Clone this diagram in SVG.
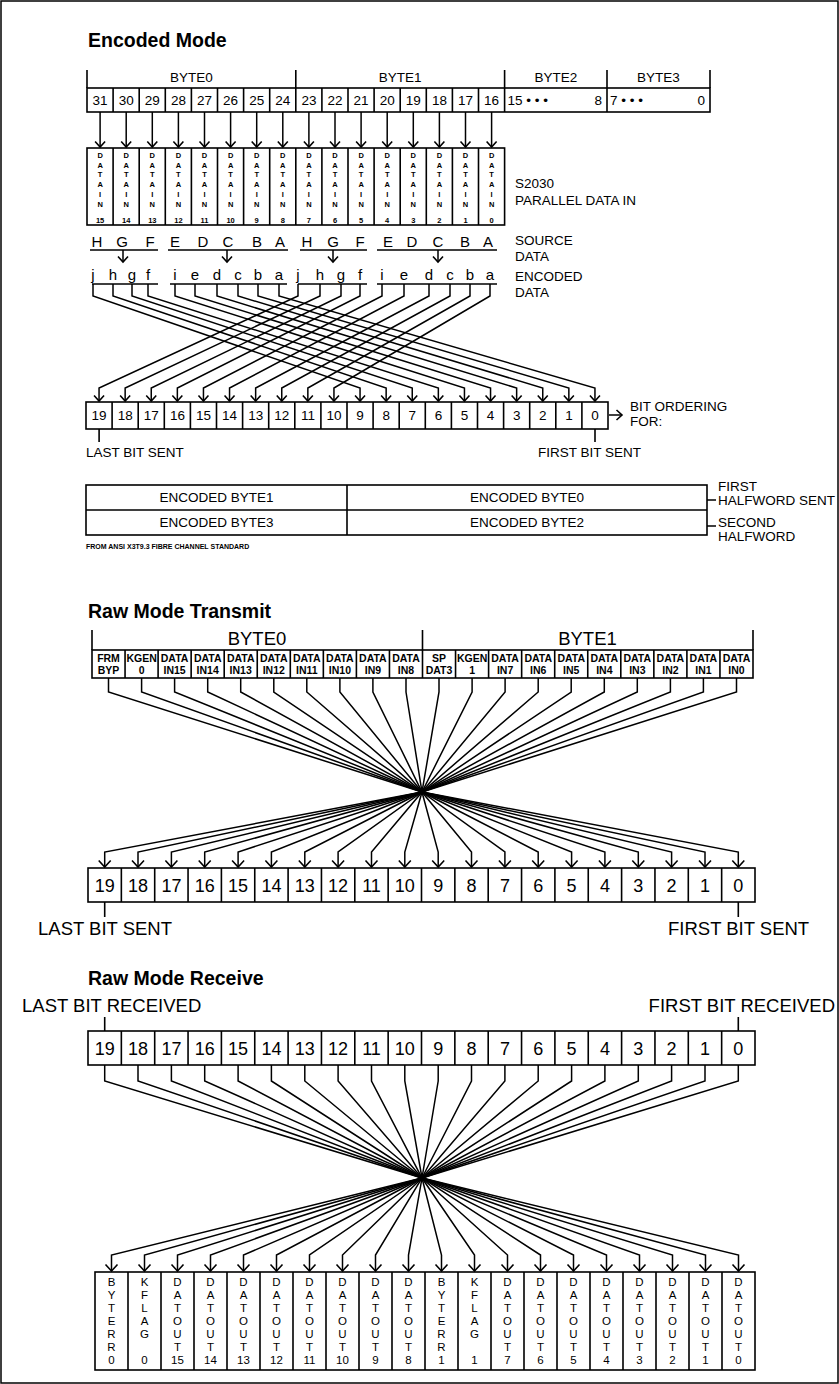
<svg xmlns="http://www.w3.org/2000/svg" width="839" height="1384" viewBox="0 0 839 1384">
<defs>
<style>
text{font-family:"Liberation Sans",Arial,Helvetica,sans-serif;fill:#000}
.c{text-anchor:middle}
.e{text-anchor:end}
.h{font-size:19.5px;font-weight:bold}
.s12{font-size:13.5px}
.lt{font-size:15px}
.sm{font-size:7px;font-weight:bold}
.dv{font-size:7.5px;font-weight:bold}
.rl{font-size:10.5px;font-weight:bold}
.big{font-size:18.5px}
.num{font-size:18px}
.vl{font-size:11.5px}
.ln{stroke:#000;stroke-width:1.6;fill:none}
.bx{fill:none;stroke:#000;stroke-width:1.6}
.w{stroke:#000;stroke-width:1.5;fill:none;marker-end:url(#ah)}
.w2{stroke:#000;stroke-width:1.5;fill:none;marker-end:url(#ah2)}
</style>
<marker id="ah" markerUnits="userSpaceOnUse" markerWidth="14" markerHeight="14" viewBox="-8 -7 10 14" refX="0" refY="0" orient="auto" overflow="visible"><path d="M-5.5,-5 L0,0 L-5.5,5" fill="none" stroke="#000" stroke-width="1.6"/></marker>
<marker id="ah2" markerUnits="userSpaceOnUse" markerWidth="16" markerHeight="16" viewBox="-9 -8 11 16" refX="0" refY="0" orient="auto" overflow="visible"><path d="M-6.5,-6 L0,0 L-6.5,6" fill="none" stroke="#000" stroke-width="1.6"/></marker>
</defs>
<rect x="1" y="1" width="837" height="1382" fill="#fff" stroke="#000" stroke-width="1.5"/>

<!-- ================= ENCODED MODE ================= -->
<text class="h" x="88" y="47">Encoded Mode</text>

<g id="enc-bytes">
<path class="ln" d="M87,70V88 M295.8,70V88 M504.6,70V88 M607,70V88 M710,70V88"/>
<rect class="bx" x="87" y="88" width="623" height="24"/>
<path class="ln" d="M113.1,88V112 M139.2,88V112 M165.3,88V112 M191.4,88V112 M217.5,88V112 M243.6,88V112 M269.7,88V112 M295.8,88V112 M321.9,88V112 M348,88V112 M374.1,88V112 M400.2,88V112 M426.3,88V112 M452.4,88V112 M478.5,88V112 M504.6,88V112 M607,88V112"/>
<text class="s12 c" x="191.4" y="82">BYTE0</text>
<text class="s12 c" x="400.2" y="82">BYTE1</text>
<text class="s12 c" x="555.8" y="82">BYTE2</text>
<text class="s12 c" x="658.5" y="82">BYTE3</text>
<text class="s12 c" x="100.1" y="105">31</text>
<text class="s12 c" x="126.2" y="105">30</text>
<text class="s12 c" x="152.3" y="105">29</text>
<text class="s12 c" x="178.4" y="105">28</text>
<text class="s12 c" x="204.5" y="105">27</text>
<text class="s12 c" x="230.6" y="105">26</text>
<text class="s12 c" x="256.7" y="105">25</text>
<text class="s12 c" x="282.8" y="105">24</text>
<text class="s12 c" x="308.9" y="105">23</text>
<text class="s12 c" x="335.0" y="105">22</text>
<text class="s12 c" x="361.1" y="105">21</text>
<text class="s12 c" x="387.2" y="105">20</text>
<text class="s12 c" x="413.3" y="105">19</text>
<text class="s12 c" x="439.4" y="105">18</text>
<text class="s12 c" x="465.5" y="105">17</text>
<text class="s12 c" x="491.6" y="105">16</text>
<text class="s12" x="507.5" y="105">15 • • •</text>
<text class="s12 e" x="602" y="105">8</text>
<text class="s12" x="610" y="105">7 • • •</text>
<text class="s12 e" x="705" y="105">0</text>
</g>

<g id="enc-datain">
<rect class="bx" x="87" y="148" width="417.6" height="77"/>
<path class="ln" d="M113.1,148V225 M139.2,148V225 M165.3,148V225 M191.4,148V225 M217.5,148V225 M243.6,148V225 M269.7,148V225 M295.8,148V225 M321.9,148V225 M348,148V225 M374.1,148V225 M400.2,148V225 M426.3,148V225 M452.4,148V225 M478.5,148V225"/>
<text class="dv c" x="100.1" y="158">D<tspan x="100.1" dy="9.7">A</tspan><tspan x="100.1" dy="9.7">T</tspan><tspan x="100.1" dy="9.7">A</tspan><tspan x="100.1" dy="9.7">I</tspan><tspan x="100.1" dy="9.7">N</tspan><tspan x="100.1" dy="16">15</tspan></text>
<text class="dv c" x="126.2" y="158">D<tspan x="126.2" dy="9.7">A</tspan><tspan x="126.2" dy="9.7">T</tspan><tspan x="126.2" dy="9.7">A</tspan><tspan x="126.2" dy="9.7">I</tspan><tspan x="126.2" dy="9.7">N</tspan><tspan x="126.2" dy="16">14</tspan></text>
<text class="dv c" x="152.3" y="158">D<tspan x="152.3" dy="9.7">A</tspan><tspan x="152.3" dy="9.7">T</tspan><tspan x="152.3" dy="9.7">A</tspan><tspan x="152.3" dy="9.7">I</tspan><tspan x="152.3" dy="9.7">N</tspan><tspan x="152.3" dy="16">13</tspan></text>
<text class="dv c" x="178.4" y="158">D<tspan x="178.4" dy="9.7">A</tspan><tspan x="178.4" dy="9.7">T</tspan><tspan x="178.4" dy="9.7">A</tspan><tspan x="178.4" dy="9.7">I</tspan><tspan x="178.4" dy="9.7">N</tspan><tspan x="178.4" dy="16">12</tspan></text>
<text class="dv c" x="204.5" y="158">D<tspan x="204.5" dy="9.7">A</tspan><tspan x="204.5" dy="9.7">T</tspan><tspan x="204.5" dy="9.7">A</tspan><tspan x="204.5" dy="9.7">I</tspan><tspan x="204.5" dy="9.7">N</tspan><tspan x="204.5" dy="16">11</tspan></text>
<text class="dv c" x="230.6" y="158">D<tspan x="230.6" dy="9.7">A</tspan><tspan x="230.6" dy="9.7">T</tspan><tspan x="230.6" dy="9.7">A</tspan><tspan x="230.6" dy="9.7">I</tspan><tspan x="230.6" dy="9.7">N</tspan><tspan x="230.6" dy="16">10</tspan></text>
<text class="dv c" x="256.7" y="158">D<tspan x="256.7" dy="9.7">A</tspan><tspan x="256.7" dy="9.7">T</tspan><tspan x="256.7" dy="9.7">A</tspan><tspan x="256.7" dy="9.7">I</tspan><tspan x="256.7" dy="9.7">N</tspan><tspan x="256.7" dy="16">9</tspan></text>
<text class="dv c" x="282.8" y="158">D<tspan x="282.8" dy="9.7">A</tspan><tspan x="282.8" dy="9.7">T</tspan><tspan x="282.8" dy="9.7">A</tspan><tspan x="282.8" dy="9.7">I</tspan><tspan x="282.8" dy="9.7">N</tspan><tspan x="282.8" dy="16">8</tspan></text>
<text class="dv c" x="308.9" y="158">D<tspan x="308.9" dy="9.7">A</tspan><tspan x="308.9" dy="9.7">T</tspan><tspan x="308.9" dy="9.7">A</tspan><tspan x="308.9" dy="9.7">I</tspan><tspan x="308.9" dy="9.7">N</tspan><tspan x="308.9" dy="16">7</tspan></text>
<text class="dv c" x="335.0" y="158">D<tspan x="335.0" dy="9.7">A</tspan><tspan x="335.0" dy="9.7">T</tspan><tspan x="335.0" dy="9.7">A</tspan><tspan x="335.0" dy="9.7">I</tspan><tspan x="335.0" dy="9.7">N</tspan><tspan x="335.0" dy="16">6</tspan></text>
<text class="dv c" x="361.1" y="158">D<tspan x="361.1" dy="9.7">A</tspan><tspan x="361.1" dy="9.7">T</tspan><tspan x="361.1" dy="9.7">A</tspan><tspan x="361.1" dy="9.7">I</tspan><tspan x="361.1" dy="9.7">N</tspan><tspan x="361.1" dy="16">5</tspan></text>
<text class="dv c" x="387.2" y="158">D<tspan x="387.2" dy="9.7">A</tspan><tspan x="387.2" dy="9.7">T</tspan><tspan x="387.2" dy="9.7">A</tspan><tspan x="387.2" dy="9.7">I</tspan><tspan x="387.2" dy="9.7">N</tspan><tspan x="387.2" dy="16">4</tspan></text>
<text class="dv c" x="413.3" y="158">D<tspan x="413.3" dy="9.7">A</tspan><tspan x="413.3" dy="9.7">T</tspan><tspan x="413.3" dy="9.7">A</tspan><tspan x="413.3" dy="9.7">I</tspan><tspan x="413.3" dy="9.7">N</tspan><tspan x="413.3" dy="16">3</tspan></text>
<text class="dv c" x="439.4" y="158">D<tspan x="439.4" dy="9.7">A</tspan><tspan x="439.4" dy="9.7">T</tspan><tspan x="439.4" dy="9.7">A</tspan><tspan x="439.4" dy="9.7">I</tspan><tspan x="439.4" dy="9.7">N</tspan><tspan x="439.4" dy="16">2</tspan></text>
<text class="dv c" x="465.5" y="158">D<tspan x="465.5" dy="9.7">A</tspan><tspan x="465.5" dy="9.7">T</tspan><tspan x="465.5" dy="9.7">A</tspan><tspan x="465.5" dy="9.7">I</tspan><tspan x="465.5" dy="9.7">N</tspan><tspan x="465.5" dy="16">1</tspan></text>
<text class="dv c" x="491.6" y="158">D<tspan x="491.6" dy="9.7">A</tspan><tspan x="491.6" dy="9.7">T</tspan><tspan x="491.6" dy="9.7">A</tspan><tspan x="491.6" dy="9.7">I</tspan><tspan x="491.6" dy="9.7">N</tspan><tspan x="491.6" dy="16">0</tspan></text>
<text class="s12" x="515" y="188">S2030</text>
<text class="s12" x="515" y="205">PARALLEL DATA IN</text>
</g>

<g id="enc-source">
<path class="ln" d="M90,250H158 M168,250H288 M300,250H367 M377,250H497"/>
<text class="lt c" x="97" y="247">H</text>
<text class="lt c" x="122" y="247">G</text>
<text class="lt c" x="150" y="247">F</text>
<text class="lt c" x="175" y="247">E</text>
<text class="lt c" x="203" y="247">D</text>
<text class="lt c" x="228" y="247">C</text>
<text class="lt c" x="257" y="247">B</text>
<text class="lt c" x="280" y="247">A</text>
<text class="lt c" x="307" y="247">H</text>
<text class="lt c" x="333" y="247">G</text>
<text class="lt c" x="360" y="247">F</text>
<text class="lt c" x="388" y="247">E</text>
<text class="lt c" x="412" y="247">D</text>
<text class="lt c" x="438" y="247">C</text>
<text class="lt c" x="465" y="247">B</text>
<text class="lt c" x="488" y="247">A</text>
<text class="s12" x="515" y="245">SOURCE</text>
<text class="s12" x="515" y="261">DATA</text>
</g>

<g id="enc-encoded">
<path class="ln" d="M92,284H158 M170,284H287 M298,284H367 M377,284H497"/>
<text class="lt c" x="93" y="280">j</text>
<text class="lt c" x="113" y="280">h</text>
<text class="lt c" x="132" y="280">g</text>
<text class="lt c" x="148" y="280">f</text>
<text class="lt c" x="175" y="280">i</text>
<text class="lt c" x="195" y="280">e</text>
<text class="lt c" x="217" y="280">d</text>
<text class="lt c" x="238" y="280">c</text>
<text class="lt c" x="258" y="280">b</text>
<text class="lt c" x="279" y="280">a</text>
<text class="lt c" x="298" y="280">j</text>
<text class="lt c" x="320" y="280">h</text>
<text class="lt c" x="341" y="280">g</text>
<text class="lt c" x="360" y="280">f</text>
<text class="lt c" x="382" y="280">i</text>
<text class="lt c" x="404" y="280">e</text>
<text class="lt c" x="429" y="280">d</text>
<text class="lt c" x="450" y="280">c</text>
<text class="lt c" x="470" y="280">b</text>
<text class="lt c" x="490" y="280">a</text>
<text class="s12" x="515" y="281">ENCODED</text>
<text class="s12" x="515" y="297">DATA</text>
</g>

<g id="enc-bitorder">
<rect class="bx" x="86" y="402" width="522" height="27"/>
<path class="ln" d="M112.1,402V429 M138.2,402V429 M164.3,402V429 M190.4,402V429 M216.5,402V429 M242.6,402V429 M268.7,402V429 M294.8,402V429 M320.9,402V429 M347,402V429 M373.1,402V429 M399.2,402V429 M425.3,402V429 M451.4,402V429 M477.5,402V429 M503.6,402V429 M529.7,402V429 M555.8,402V429 M581.9,402V429"/>
<text class="s12 c" x="99.1" y="420">19</text>
<text class="s12 c" x="125.2" y="420">18</text>
<text class="s12 c" x="151.3" y="420">17</text>
<text class="s12 c" x="177.4" y="420">16</text>
<text class="s12 c" x="203.5" y="420">15</text>
<text class="s12 c" x="229.6" y="420">14</text>
<text class="s12 c" x="255.7" y="420">13</text>
<text class="s12 c" x="281.8" y="420">12</text>
<text class="s12 c" x="307.9" y="420">11</text>
<text class="s12 c" x="334.0" y="420">10</text>
<text class="s12 c" x="360.1" y="420">9</text>
<text class="s12 c" x="386.2" y="420">8</text>
<text class="s12 c" x="412.3" y="420">7</text>
<text class="s12 c" x="438.4" y="420">6</text>
<text class="s12 c" x="464.5" y="420">5</text>
<text class="s12 c" x="490.6" y="420">4</text>
<text class="s12 c" x="516.7" y="420">3</text>
<text class="s12 c" x="542.8" y="420">2</text>
<text class="s12 c" x="568.9" y="420">1</text>
<text class="s12 c" x="595.0" y="420">0</text>
<path class="ln" d="M99.1,429V442 M595,429V442"/>
<path class="w" d="M609,415H622"/>
<text class="s12" x="630" y="411">BIT ORDERING</text>
<text class="s12" x="630" y="426">FOR:</text>
<text class="s12" x="86" y="457">LAST BIT SENT</text>
<text class="s12" x="538" y="457">FIRST BIT SENT</text>
</g>

<g id="enc-halfwords">
<rect class="bx" x="86" y="485" width="621" height="50"/>
<path class="ln" d="M86,510H707 M347,485V535 M707,500H716 M707,526H716"/>
<text class="s12 c" x="216.5" y="502">ENCODED BYTE1</text>
<text class="s12 c" x="527" y="502">ENCODED BYTE0</text>
<text class="s12 c" x="216.5" y="527">ENCODED BYTE3</text>
<text class="s12 c" x="527" y="527">ENCODED BYTE2</text>
<text class="s12" x="718" y="491">FIRST</text>
<text class="s12" x="718" y="505">HALFWORD SENT</text>
<text class="s12" x="718" y="527">SECOND</text>
<text class="s12" x="718" y="541">HALFWORD</text>
<text class="sm" x="86" y="549">FROM ANSI X3T9.3 FIBRE CHANNEL STANDARD</text>
</g>

<g id="enc-connectors">
<path class="w" d="M100.1,112V147"/>
<path class="w" d="M126.2,112V147"/>
<path class="w" d="M152.3,112V147"/>
<path class="w" d="M178.4,112V147"/>
<path class="w" d="M204.5,112V147"/>
<path class="w" d="M230.6,112V147"/>
<path class="w" d="M256.7,112V147"/>
<path class="w" d="M282.8,112V147"/>
<path class="w" d="M308.9,112V147"/>
<path class="w" d="M335.0,112V147"/>
<path class="w" d="M361.1,112V147"/>
<path class="w" d="M387.2,112V147"/>
<path class="w" d="M413.3,112V147"/>
<path class="w" d="M439.4,112V147"/>
<path class="w" d="M465.5,112V147"/>
<path class="w" d="M491.6,112V147"/>
<path class="w" d="M123,250V262"/>
<path class="w" d="M227,250V262"/>
<path class="w" d="M333,250V262"/>
<path class="w" d="M438,250V262"/>
<path class="w" d="M93,284V296L360.05,388V401"/>
<path class="w" d="M113,284V296L386.15,388V401"/>
<path class="w" d="M132,284V296L412.25,388V401"/>
<path class="w" d="M148,284V296L438.35,388V401"/>
<path class="w" d="M175,284V296L464.45,388V401"/>
<path class="w" d="M195,284V296L490.55,388V401"/>
<path class="w" d="M217,284V296L516.65,388V401"/>
<path class="w" d="M238,284V296L542.75,388V401"/>
<path class="w" d="M258,284V296L568.85,388V401"/>
<path class="w" d="M279,284V296L594.95,388V401"/>
<path class="w" d="M298,284V296L99.05,388V401"/>
<path class="w" d="M320,284V296L125.15,388V401"/>
<path class="w" d="M341,284V296L151.25,388V401"/>
<path class="w" d="M360,284V296L177.35,388V401"/>
<path class="w" d="M382,284V296L203.45,388V401"/>
<path class="w" d="M404,284V296L229.55,388V401"/>
<path class="w" d="M429,284V296L255.65,388V401"/>
<path class="w" d="M450,284V296L281.75,388V401"/>
<path class="w" d="M470,284V296L307.85,388V401"/>
<path class="w" d="M490,284V296L333.95,388V401"/>
</g>

<!-- ================= RAW MODE TRANSMIT ================= -->
<text class="h" x="88" y="618">Raw Mode Transmit</text>

<g id="tx-inputs">
<path class="ln" d="M92,630V650 M422.5,630V650 M753,630V650"/>
<text class="big c" x="257" y="645">BYTE0</text>
<text class="big c" x="587.5" y="645">BYTE1</text>
<rect class="bx" x="92" y="650" width="661" height="28"/>
<path class="ln" d="M125.05,650V678 M158.1,650V678 M191.15,650V678 M224.2,650V678 M257.25,650V678 M290.3,650V678 M323.35,650V678 M356.4,650V678 M389.45,650V678 M422.5,650V678 M455.55,650V678 M488.6,650V678 M521.65,650V678 M554.7,650V678 M587.75,650V678 M620.8,650V678 M653.85,650V678 M686.9,650V678 M719.95,650V678"/>
<text class="rl c" x="108.5" y="661.5">FRM<tspan x="108.5" dy="12">BYP</tspan></text>
<text class="rl c" x="141.6" y="661.5">KGEN<tspan x="141.6" dy="12">0</tspan></text>
<text class="rl c" x="174.6" y="661.5">DATA<tspan x="174.6" dy="12">IN15</tspan></text>
<text class="rl c" x="207.7" y="661.5">DATA<tspan x="207.7" dy="12">IN14</tspan></text>
<text class="rl c" x="240.7" y="661.5">DATA<tspan x="240.7" dy="12">IN13</tspan></text>
<text class="rl c" x="273.8" y="661.5">DATA<tspan x="273.8" dy="12">IN12</tspan></text>
<text class="rl c" x="306.8" y="661.5">DATA<tspan x="306.8" dy="12">IN11</tspan></text>
<text class="rl c" x="339.9" y="661.5">DATA<tspan x="339.9" dy="12">IN10</tspan></text>
<text class="rl c" x="372.9" y="661.5">DATA<tspan x="372.9" dy="12">IN9</tspan></text>
<text class="rl c" x="406.0" y="661.5">DATA<tspan x="406.0" dy="12">IN8</tspan></text>
<text class="rl c" x="439.0" y="661.5">SP<tspan x="439.0" dy="12">DAT3</tspan></text>
<text class="rl c" x="472.1" y="661.5">KGEN<tspan x="472.1" dy="12">1</tspan></text>
<text class="rl c" x="505.1" y="661.5">DATA<tspan x="505.1" dy="12">IN7</tspan></text>
<text class="rl c" x="538.2" y="661.5">DATA<tspan x="538.2" dy="12">IN6</tspan></text>
<text class="rl c" x="571.2" y="661.5">DATA<tspan x="571.2" dy="12">IN5</tspan></text>
<text class="rl c" x="604.3" y="661.5">DATA<tspan x="604.3" dy="12">IN4</tspan></text>
<text class="rl c" x="637.3" y="661.5">DATA<tspan x="637.3" dy="12">IN3</tspan></text>
<text class="rl c" x="670.4" y="661.5">DATA<tspan x="670.4" dy="12">IN2</tspan></text>
<text class="rl c" x="703.4" y="661.5">DATA<tspan x="703.4" dy="12">IN1</tspan></text>
<text class="rl c" x="736.5" y="661.5">DATA<tspan x="736.5" dy="12">IN0</tspan></text>
</g>

<g id="tx-bits">
<rect class="bx" x="88" y="868" width="667" height="34"/>
<path class="ln" d="M121.35,868V902 M154.7,868V902 M188.05,868V902 M221.4,868V902 M254.75,868V902 M288.1,868V902 M321.45,868V902 M354.8,868V902 M388.15,868V902 M421.5,868V902 M454.85,868V902 M488.2,868V902 M521.55,868V902 M554.9,868V902 M588.25,868V902 M621.6,868V902 M654.95,868V902 M688.3,868V902 M721.65,868V902"/>
<text class="num c" x="104.7" y="892">19</text>
<text class="num c" x="138.0" y="892">18</text>
<text class="num c" x="171.4" y="892">17</text>
<text class="num c" x="204.7" y="892">16</text>
<text class="num c" x="238.1" y="892">15</text>
<text class="num c" x="271.4" y="892">14</text>
<text class="num c" x="304.8" y="892">13</text>
<text class="num c" x="338.1" y="892">12</text>
<text class="num c" x="371.5" y="892">11</text>
<text class="num c" x="404.8" y="892">10</text>
<text class="num c" x="438.2" y="892">9</text>
<text class="num c" x="471.5" y="892">8</text>
<text class="num c" x="504.9" y="892">7</text>
<text class="num c" x="538.2" y="892">6</text>
<text class="num c" x="571.6" y="892">5</text>
<text class="num c" x="604.9" y="892">4</text>
<text class="num c" x="638.3" y="892">3</text>
<text class="num c" x="671.6" y="892">2</text>
<text class="num c" x="705.0" y="892">1</text>
<text class="num c" x="738.3" y="892">0</text>
<path class="ln" d="M104.7,902V917 M738.3,902V917"/>
<text class="big" x="38" y="935">LAST BIT SENT</text>
<text class="big" x="668" y="935">FIRST BIT SENT</text>
</g>

<g id="tx-connectors">
<path class="w2" d="M108.5,678V692L422,792L738.3,852V867"/>
<path class="w2" d="M141.6,678V692L422,792L705.0,852V867"/>
<path class="w2" d="M174.6,678V692L422,792L671.6,852V867"/>
<path class="w2" d="M207.7,678V692L422,792L638.3,852V867"/>
<path class="w2" d="M240.7,678V692L422,792L604.9,852V867"/>
<path class="w2" d="M273.8,678V692L422,792L571.6,852V867"/>
<path class="w2" d="M306.8,678V692L422,792L538.2,852V867"/>
<path class="w2" d="M339.9,678V692L422,792L504.9,852V867"/>
<path class="w2" d="M372.9,678V692L422,792L471.5,852V867"/>
<path class="w2" d="M406.0,678V692L422,792L438.2,852V867"/>
<path class="w2" d="M439.0,678V692L422,792L404.8,852V867"/>
<path class="w2" d="M472.1,678V692L422,792L371.5,852V867"/>
<path class="w2" d="M505.1,678V692L422,792L338.1,852V867"/>
<path class="w2" d="M538.2,678V692L422,792L304.8,852V867"/>
<path class="w2" d="M571.2,678V692L422,792L271.4,852V867"/>
<path class="w2" d="M604.3,678V692L422,792L238.1,852V867"/>
<path class="w2" d="M637.3,678V692L422,792L204.7,852V867"/>
<path class="w2" d="M670.4,678V692L422,792L171.4,852V867"/>
<path class="w2" d="M703.4,678V692L422,792L138.0,852V867"/>
<path class="w2" d="M736.5,678V692L422,792L104.7,852V867"/>
</g>

<!-- ================= RAW MODE RECEIVE ================= -->
<text class="h" x="88" y="985">Raw Mode Receive</text>

<g id="rx-bits">
<text class="big" x="22" y="1012">LAST BIT RECEIVED</text>
<text class="big e" x="835" y="1012">FIRST BIT RECEIVED</text>
<path class="ln" d="M104.7,1017V1031 M738.3,1017V1031"/>
<rect class="bx" x="88" y="1031" width="667" height="34"/>
<path class="ln" d="M121.35,1031V1065 M154.7,1031V1065 M188.05,1031V1065 M221.4,1031V1065 M254.75,1031V1065 M288.1,1031V1065 M321.45,1031V1065 M354.8,1031V1065 M388.15,1031V1065 M421.5,1031V1065 M454.85,1031V1065 M488.2,1031V1065 M521.55,1031V1065 M554.9,1031V1065 M588.25,1031V1065 M621.6,1031V1065 M654.95,1031V1065 M688.3,1031V1065 M721.65,1031V1065"/>
<text class="num c" x="104.7" y="1055">19</text>
<text class="num c" x="138.0" y="1055">18</text>
<text class="num c" x="171.4" y="1055">17</text>
<text class="num c" x="204.7" y="1055">16</text>
<text class="num c" x="238.1" y="1055">15</text>
<text class="num c" x="271.4" y="1055">14</text>
<text class="num c" x="304.8" y="1055">13</text>
<text class="num c" x="338.1" y="1055">12</text>
<text class="num c" x="371.5" y="1055">11</text>
<text class="num c" x="404.8" y="1055">10</text>
<text class="num c" x="438.2" y="1055">9</text>
<text class="num c" x="471.5" y="1055">8</text>
<text class="num c" x="504.9" y="1055">7</text>
<text class="num c" x="538.2" y="1055">6</text>
<text class="num c" x="571.6" y="1055">5</text>
<text class="num c" x="604.9" y="1055">4</text>
<text class="num c" x="638.3" y="1055">3</text>
<text class="num c" x="671.6" y="1055">2</text>
<text class="num c" x="705.0" y="1055">1</text>
<text class="num c" x="738.3" y="1055">0</text>
</g>

<g id="rx-outputs">
<rect class="bx" x="95" y="1272" width="660" height="98"/>
<path class="ln" d="M128,1272V1370 M161,1272V1370 M194,1272V1370 M227,1272V1370 M260,1272V1370 M293,1272V1370 M326,1272V1370 M359,1272V1370 M392,1272V1370 M425,1272V1370 M458,1272V1370 M491,1272V1370 M524,1272V1370 M557,1272V1370 M590,1272V1370 M623,1272V1370 M656,1272V1370 M689,1272V1370 M722,1272V1370"/>
<text class="vl c" x="111.5" y="1286">B<tspan x="111.5" dy="13">Y</tspan><tspan x="111.5" dy="13">T</tspan><tspan x="111.5" dy="13">E</tspan><tspan x="111.5" dy="13">R</tspan><tspan x="111.5" dy="13">R</tspan><tspan x="111.5" dy="13">0</tspan></text>
<text class="vl c" x="144.5" y="1286">K<tspan x="144.5" dy="13">F</tspan><tspan x="144.5" dy="13">L</tspan><tspan x="144.5" dy="13">A</tspan><tspan x="144.5" dy="13">G</tspan><tspan x="144.5" dy="26">0</tspan></text>
<text class="vl c" x="177.5" y="1286">D<tspan x="177.5" dy="13">A</tspan><tspan x="177.5" dy="13">T</tspan><tspan x="177.5" dy="13">O</tspan><tspan x="177.5" dy="13">U</tspan><tspan x="177.5" dy="13">T</tspan><tspan x="177.5" dy="13">15</tspan></text>
<text class="vl c" x="210.5" y="1286">D<tspan x="210.5" dy="13">A</tspan><tspan x="210.5" dy="13">T</tspan><tspan x="210.5" dy="13">O</tspan><tspan x="210.5" dy="13">U</tspan><tspan x="210.5" dy="13">T</tspan><tspan x="210.5" dy="13">14</tspan></text>
<text class="vl c" x="243.5" y="1286">D<tspan x="243.5" dy="13">A</tspan><tspan x="243.5" dy="13">T</tspan><tspan x="243.5" dy="13">O</tspan><tspan x="243.5" dy="13">U</tspan><tspan x="243.5" dy="13">T</tspan><tspan x="243.5" dy="13">13</tspan></text>
<text class="vl c" x="276.5" y="1286">D<tspan x="276.5" dy="13">A</tspan><tspan x="276.5" dy="13">T</tspan><tspan x="276.5" dy="13">O</tspan><tspan x="276.5" dy="13">U</tspan><tspan x="276.5" dy="13">T</tspan><tspan x="276.5" dy="13">12</tspan></text>
<text class="vl c" x="309.5" y="1286">D<tspan x="309.5" dy="13">A</tspan><tspan x="309.5" dy="13">T</tspan><tspan x="309.5" dy="13">O</tspan><tspan x="309.5" dy="13">U</tspan><tspan x="309.5" dy="13">T</tspan><tspan x="309.5" dy="13">11</tspan></text>
<text class="vl c" x="342.5" y="1286">D<tspan x="342.5" dy="13">A</tspan><tspan x="342.5" dy="13">T</tspan><tspan x="342.5" dy="13">O</tspan><tspan x="342.5" dy="13">U</tspan><tspan x="342.5" dy="13">T</tspan><tspan x="342.5" dy="13">10</tspan></text>
<text class="vl c" x="375.5" y="1286">D<tspan x="375.5" dy="13">A</tspan><tspan x="375.5" dy="13">T</tspan><tspan x="375.5" dy="13">O</tspan><tspan x="375.5" dy="13">U</tspan><tspan x="375.5" dy="13">T</tspan><tspan x="375.5" dy="13">9</tspan></text>
<text class="vl c" x="408.5" y="1286">D<tspan x="408.5" dy="13">A</tspan><tspan x="408.5" dy="13">T</tspan><tspan x="408.5" dy="13">O</tspan><tspan x="408.5" dy="13">U</tspan><tspan x="408.5" dy="13">T</tspan><tspan x="408.5" dy="13">8</tspan></text>
<text class="vl c" x="441.5" y="1286">B<tspan x="441.5" dy="13">Y</tspan><tspan x="441.5" dy="13">T</tspan><tspan x="441.5" dy="13">E</tspan><tspan x="441.5" dy="13">R</tspan><tspan x="441.5" dy="13">R</tspan><tspan x="441.5" dy="13">1</tspan></text>
<text class="vl c" x="474.5" y="1286">K<tspan x="474.5" dy="13">F</tspan><tspan x="474.5" dy="13">L</tspan><tspan x="474.5" dy="13">A</tspan><tspan x="474.5" dy="13">G</tspan><tspan x="474.5" dy="26">1</tspan></text>
<text class="vl c" x="507.5" y="1286">D<tspan x="507.5" dy="13">A</tspan><tspan x="507.5" dy="13">T</tspan><tspan x="507.5" dy="13">O</tspan><tspan x="507.5" dy="13">U</tspan><tspan x="507.5" dy="13">T</tspan><tspan x="507.5" dy="13">7</tspan></text>
<text class="vl c" x="540.5" y="1286">D<tspan x="540.5" dy="13">A</tspan><tspan x="540.5" dy="13">T</tspan><tspan x="540.5" dy="13">O</tspan><tspan x="540.5" dy="13">U</tspan><tspan x="540.5" dy="13">T</tspan><tspan x="540.5" dy="13">6</tspan></text>
<text class="vl c" x="573.5" y="1286">D<tspan x="573.5" dy="13">A</tspan><tspan x="573.5" dy="13">T</tspan><tspan x="573.5" dy="13">O</tspan><tspan x="573.5" dy="13">U</tspan><tspan x="573.5" dy="13">T</tspan><tspan x="573.5" dy="13">5</tspan></text>
<text class="vl c" x="606.5" y="1286">D<tspan x="606.5" dy="13">A</tspan><tspan x="606.5" dy="13">T</tspan><tspan x="606.5" dy="13">O</tspan><tspan x="606.5" dy="13">U</tspan><tspan x="606.5" dy="13">T</tspan><tspan x="606.5" dy="13">4</tspan></text>
<text class="vl c" x="639.5" y="1286">D<tspan x="639.5" dy="13">A</tspan><tspan x="639.5" dy="13">T</tspan><tspan x="639.5" dy="13">O</tspan><tspan x="639.5" dy="13">U</tspan><tspan x="639.5" dy="13">T</tspan><tspan x="639.5" dy="13">3</tspan></text>
<text class="vl c" x="672.5" y="1286">D<tspan x="672.5" dy="13">A</tspan><tspan x="672.5" dy="13">T</tspan><tspan x="672.5" dy="13">O</tspan><tspan x="672.5" dy="13">U</tspan><tspan x="672.5" dy="13">T</tspan><tspan x="672.5" dy="13">2</tspan></text>
<text class="vl c" x="705.5" y="1286">D<tspan x="705.5" dy="13">A</tspan><tspan x="705.5" dy="13">T</tspan><tspan x="705.5" dy="13">O</tspan><tspan x="705.5" dy="13">U</tspan><tspan x="705.5" dy="13">T</tspan><tspan x="705.5" dy="13">1</tspan></text>
<text class="vl c" x="738.5" y="1286">D<tspan x="738.5" dy="13">A</tspan><tspan x="738.5" dy="13">T</tspan><tspan x="738.5" dy="13">O</tspan><tspan x="738.5" dy="13">U</tspan><tspan x="738.5" dy="13">T</tspan><tspan x="738.5" dy="13">0</tspan></text>
</g>

<g id="rx-connectors">
<path class="w2" d="M104.7,1065V1081L422,1178L738.5,1255V1271"/>
<path class="w2" d="M138.0,1065V1081L422,1178L705.5,1255V1271"/>
<path class="w2" d="M171.4,1065V1081L422,1178L672.5,1255V1271"/>
<path class="w2" d="M204.7,1065V1081L422,1178L639.5,1255V1271"/>
<path class="w2" d="M238.1,1065V1081L422,1178L606.5,1255V1271"/>
<path class="w2" d="M271.4,1065V1081L422,1178L573.5,1255V1271"/>
<path class="w2" d="M304.8,1065V1081L422,1178L540.5,1255V1271"/>
<path class="w2" d="M338.1,1065V1081L422,1178L507.5,1255V1271"/>
<path class="w2" d="M371.5,1065V1081L422,1178L474.5,1255V1271"/>
<path class="w2" d="M404.8,1065V1081L422,1178L441.5,1255V1271"/>
<path class="w2" d="M438.2,1065V1081L422,1178L408.5,1255V1271"/>
<path class="w2" d="M471.5,1065V1081L422,1178L375.5,1255V1271"/>
<path class="w2" d="M504.9,1065V1081L422,1178L342.5,1255V1271"/>
<path class="w2" d="M538.2,1065V1081L422,1178L309.5,1255V1271"/>
<path class="w2" d="M571.6,1065V1081L422,1178L276.5,1255V1271"/>
<path class="w2" d="M604.9,1065V1081L422,1178L243.5,1255V1271"/>
<path class="w2" d="M638.3,1065V1081L422,1178L210.5,1255V1271"/>
<path class="w2" d="M671.6,1065V1081L422,1178L177.5,1255V1271"/>
<path class="w2" d="M705.0,1065V1081L422,1178L144.5,1255V1271"/>
<path class="w2" d="M738.3,1065V1081L422,1178L111.5,1255V1271"/>
</g>
</svg>
